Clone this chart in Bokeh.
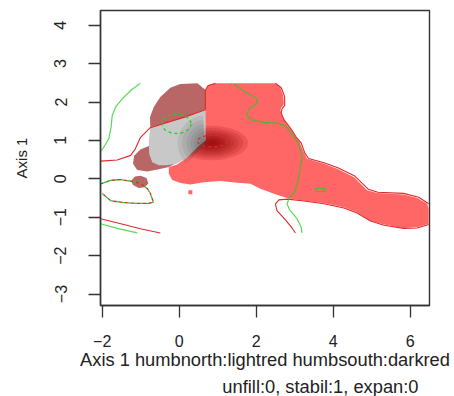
import numpy as np
from bokeh.plotting import figure
from bokeh.models import Range1d, FixedTicker, Title
from bokeh.embed import file_html
from bokeh.resources import INLINE

# ---------------- data ----------------
x_ticks = [-2, 0, 2, 4, 6]
x_tick_labels = ["\u22122", "0", "2", "4", "6"]
y_ticks = [-3, -2, -1, 0, 1, 2, 3, 4]
y_tick_labels = ["\u22123", "\u22122", "\u22121", "0", "1", "2", "3", "4"]

x_label = "Axis 1 humbnorth:lightred humbsouth:darkred"
sub_label = "unfill:0, stabil:1, expan:0"
y_label = "Axis 1"

# humbsouth-only region (darkred, transparent)
south_x = [-0.75, -0.76, -0.66, -0.49, -0.23, 0.03, 0.47, 0.68, 0.68, 0.21, -0.27, -0.53,
           -0.83, -1.09, -1.20, -1.17, -1.01, -0.76, -0.76]
south_y = [1.34, 1.60, 1.87, 2.13, 2.37, 2.47, 2.49, 2.32, 1.00, 0.56, 0.31, 0.25,
           0.19, 0.23, 0.39, 0.60, 0.76, 0.87, 1.10]
south_blob_x = [-1.25, -1.15, -1.00, -0.85, -0.80, -0.90, -1.05, -1.20]
south_blob_y = [-0.06, 0.06, 0.08, 0.02, -0.12, -0.22, -0.24, -0.16]

# humbnorth-only region (lightred)
north_x = [0.68, 0.73, 0.94, 2.50, 2.63, 2.70, 2.72, 2.65, 2.63, 2.67, 2.79, 2.89, 3.00, 3.13,
           3.24, 3.32, 3.76, 4.10, 4.54, 4.88, 5.14, 5.83, 6.18, 6.44, 6.48, 6.48, 6.18, 5.83,
           5.32, 4.97, 4.62, 4.28, 3.76, 3.24, 2.80, 2.46, 2.11, 1.85, 1.51, 1.07, 0.64, 0.29,
           0.03, -0.18, -0.27, -0.27, -0.05, 0.21, 0.47, 0.68]
north_y = [2.30, 2.40, 2.49, 2.49, 2.37, 2.17, 1.95, 1.85, 1.78, 1.65, 1.43, 1.30, 1.13, 0.95,
           0.69, 0.52, 0.39, 0.26, 0.04, -0.30, -0.37, -0.41, -0.50, -0.65, -0.78, -1.17, -1.26,
           -1.28, -1.19, -1.09, -0.87, -0.74, -0.63, -0.57, -0.50, -0.39, -0.26, -0.13, -0.10,
           -0.06, -0.09, -0.15, -0.11, -0.03, 0.13, 0.30, 0.37, 0.56, 0.82, 1.00]
north_dot_x = [0.29]
north_dot_y = [-0.35]

# stability (overlap) region (grey)
stab_x = [-0.75, -0.31, 0.12, 0.68, 0.68, 0.47, 0.21, -0.05, -0.31, -0.53, -0.70, -0.78, -0.79]
stab_y = [1.34, 1.47, 1.60, 1.81, 1.00, 0.82, 0.56, 0.40, 0.35, 0.35, 0.43, 0.65, 1.00]

# density peak shading (darkred core) and grey shading inside the overlap
dens_cx, dens_cy = 0.84, 0.93
dens_w = [1.9, 1.65, 1.42, 1.2, 1.0, 0.82, 0.65, 0.5, 0.36, 0.24]
dens_h = [0.90, 0.78, 0.67, 0.57, 0.48, 0.40, 0.32, 0.25, 0.19, 0.13]
grey_cx, grey_cy = 0.68, 0.93
grey_r = [0.72, 0.6, 0.49, 0.39, 0.3, 0.22, 0.14]

# contour lines (red = humbnorth, green = humbsouth)
red_lines_x = [
    [-2.04, -1.61, -1.26, -1.14, -1.01, -0.75, -0.31, 0.12, 0.68, 0.68, 0.74, 0.94],
    [2.50, 2.65, 2.74, 2.74, 2.67, 2.65, 2.72, 2.82, 2.93, 3.03, 3.17, 3.26, 3.36, 3.76, 4.12,
     4.56, 4.91, 5.16, 5.83, 6.22, 6.48],
    [6.48, 6.18, 5.83, 5.32, 4.97, 4.62, 4.28, 3.76, 3.24, 2.82, 2.59, 2.50, 2.54, 2.76, 2.93, 3.02],
    [-2.04, -1.44, -1.01, -0.49],
]
red_lines_y = [
    [0.46, 0.49, 0.61, 0.78, 1.07, 1.33, 1.47, 1.60, 1.80, 2.30, 2.42, 2.49],
    [2.49, 2.37, 2.14, 1.91, 1.82, 1.71, 1.54, 1.41, 1.26, 1.10, 0.93, 0.68, 0.53, 0.42, 0.29,
     0.07, -0.27, -0.35, -0.38, -0.48, -0.65],
    [-1.19, -1.28, -1.29, -1.21, -1.10, -0.89, -0.76, -0.65, -0.58, -0.53, -0.55, -0.65, -0.83,
     -1.07, -1.28, -1.41],
    [-1.04, -1.19, -1.30, -1.41],
]
green_lines_x = [
    [-1.01, -1.26, -1.48, -1.65, -1.74, -1.77, -1.83, -1.96, -2.04],
    [1.42, 1.59, 1.81, 2.03, 2.01, 1.81, 1.75, 1.85, 2.20, 2.54, 2.76, 2.89, 3.02, 3.13, 3.19,
     3.13, 3.08, 3.00, 2.87, 2.80, 2.87, 3.06, 3.17, 3.19],
    [-2.04, -1.61, -1.09],
]
green_lines_y = [
    [2.49, 2.30, 2.08, 1.87, 1.65, 1.34, 1.04, 0.82, 0.72],
    [2.47, 2.34, 2.21, 2.08, 1.95, 1.82, 1.65, 1.54, 1.47, 1.45, 1.39, 1.21, 1.04, 0.82, 0.56,
     0.22, -0.09, -0.35, -0.48, -0.65, -0.81, -1.04, -1.26, -1.41],
    [-1.17, -1.29, -1.41],
]
# dashed contour shared by both (lower left)
dash_both_x = [-2.04, -1.78, -1.52, -1.26, -1.01, -0.83, -0.75, -0.67, -0.80, -1.09, -1.45, -1.78, -2.00]
dash_both_y = [-0.13, -0.04, -0.02, -0.06, -0.12, -0.25, -0.38, -0.61, -0.64, -0.64, -0.62, -0.57, -0.38]
# small closed contours
green_dash_ell = dict(x=[-0.07], y=[1.43], w=[0.75], h=[0.50])
red_dash_ell = dict(x=[0.86], y=[0.98], w=[0.78], h=[0.30])
green_small_ell = dict(x=[3.67], y=[-0.29], w=[0.26], h=[0.09])

# ---------------- figure ----------------
def px2x(px):
    return -2 + (px - 101.7) / 38.5

def px2y(py):
    return (178.3 - py) / 38.4

p = figure(frame_width=329, frame_height=295, output_backend="svg", toolbar_location=None,
           x_range=Range1d(px2x(100), px2x(429)), y_range=Range1d(px2y(305), px2y(10)),
           min_border_left=100, min_border_right=25, min_border_top=10, min_border_bottom=91)
p.grid.visible = False
p.background_fill_color = "white"
p.border_fill_color = "white"
p.outline_line_color = "#333333"
p.outline_line_width = 1.4

LIGHTRED = "#FF6666"
DARKRED_T = "#B96666"
GREY = "#C8C8C8"
RED = "#E02828"
GREEN = "#22CC22"
FONT = "Liberation Sans"

p.patch(south_x, south_y, fill_color=DARKRED_T, line_color=None)
p.patch(south_blob_x, south_blob_y, fill_color=DARKRED_T, line_color=None)
p.patch(north_x, north_y, fill_color=LIGHTRED, line_color=None)
p.scatter(north_dot_x, north_dot_y, marker="square", size=4, fill_color=LIGHTRED, line_color=None)
p.ellipse(x=[dens_cx] * len(dens_w), y=[dens_cy] * len(dens_w), width=dens_w, height=dens_h,
          fill_color="#8B0000", fill_alpha=0.15, line_color=None)
p.patch(stab_x, stab_y, fill_color=GREY, line_color=None)
p.wedge(x=[grey_cx] * len(grey_r), y=[grey_cy] * len(grey_r), radius=grey_r,
        start_angle=np.deg2rad(95), end_angle=np.deg2rad(228),
        fill_color="#555555", fill_alpha=0.12, line_color=None)

p.multi_line(red_lines_x, red_lines_y, line_color=RED, line_width=1.1)
p.multi_line(green_lines_x, green_lines_y, line_color=GREEN, line_width=1.2, line_alpha=0.75)
p.line(dash_both_x, dash_both_y, line_color=RED, line_width=1.3, line_dash="3 3")
p.line(dash_both_x, dash_both_y, line_color=GREEN, line_width=1.3, line_dash="3 3", line_dash_offset=3)
p.ellipse(x=green_dash_ell["x"], y=green_dash_ell["y"], width=green_dash_ell["w"],
          height=green_dash_ell["h"], fill_color=None, line_color=GREEN, line_width=1.3,
          line_dash="3 3")
p.ellipse(x=red_dash_ell["x"], y=red_dash_ell["y"], width=red_dash_ell["w"],
          height=red_dash_ell["h"], fill_color=None, line_color=RED, line_width=1.1,
          line_dash="3 3")
p.ellipse(x=green_small_ell["x"], y=green_small_ell["y"], width=green_small_ell["w"],
          height=green_small_ell["h"], fill_color=None, line_color=GREEN, line_width=1.2,
          line_alpha=0.8)

# axes
for ax, ticks, labels in ((p.xaxis[0], x_ticks, x_tick_labels), (p.yaxis[0], y_ticks, y_tick_labels)):
    ax.ticker = FixedTicker(ticks=ticks)
    ax.major_label_overrides = {t: l for t, l in zip(ticks, labels)}
    ax.minor_tick_line_color = None
    ax.major_tick_out = 12
    ax.major_tick_in = 0
    ax.axis_line_color = "#333333"
    ax.axis_line_width = 1.4
    ax.major_tick_line_color = "#333333"
    ax.major_tick_line_width = 1.3
    ax.major_label_text_font = FONT
    ax.major_label_text_font_size = "16px"
    ax.major_label_text_color = "#222222"
    ax.axis_label_text_font = FONT
    ax.axis_label_text_font_style = "normal"
    ax.axis_label_text_color = "#222222"
p.xaxis.major_label_standoff = 17
p.yaxis.major_label_standoff = 22
p.yaxis.major_label_orientation = "vertical"

p.xaxis.axis_label = x_label
p.xaxis.axis_label_text_font_size = "18.3px"
p.xaxis.axis_label_standoff = -1
p.yaxis.axis_label = y_label
p.yaxis.axis_label_text_font_size = "15px"
p.yaxis.axis_label_standoff = 22

sub = Title(text=sub_label, align="right", offset=11, text_font=FONT, text_font_size="18.3px",
            text_font_style="normal", text_color="#222222", standoff=3)
p.add_layout(sub, "below")

open("out.html", "w").write(file_html(p, INLINE))
